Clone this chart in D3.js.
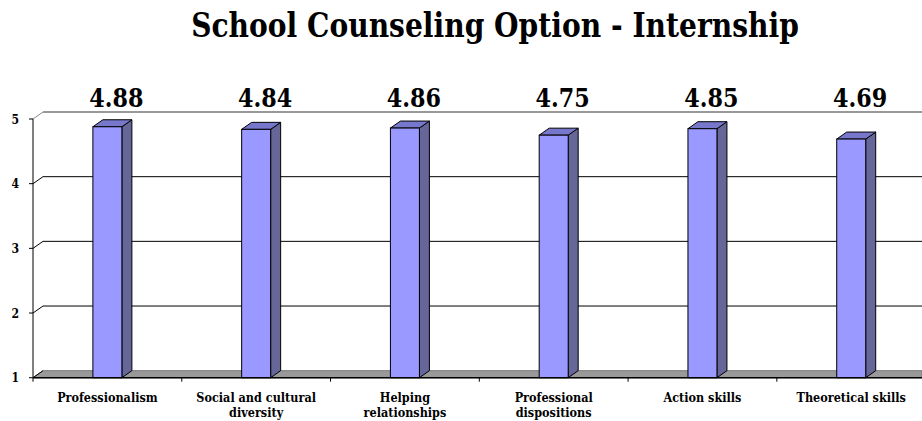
<!DOCTYPE html>
<html lang="en">
	<head>
		<meta charset="utf-8">
		<title>School Counseling Option - Internship</title>
		<script src="https://cdn.jsdelivr.net/npm/d3@7"></script>
		<style>
			body { margin: 0; background: #fff; overflow: hidden; }
		</style>
	</head>
	<body>
		<script>
			// chart data
			var categories = [["Professionalism"], ["Social and cultural", "diversity"], ["Helping", "relationships"],
				["Professional", "dispositions"], ["Action skills"], ["Theoretical skills"]];
			var values = [4.88, 4.84, 4.86, 4.75, 4.85, 4.69];
			var yTicks = [1, 2, 3, 4, 5];

			var w = 922, h = 421;
			var left = 33, right = 925.6;
			var dx = 10, dy = -7;   // depth of the 3d look
			var barW = 29;
			var font = "'DejaVu Serif', 'Liberation Serif', serif";
			var squeeze = 0.84;   // narrow the serif glyphs a bit, like Times

			var svg = d3.select("body").append("svg")
				.attr("width", w)
				.attr("height", h)
				.style("display", "block")
				.attr("font-family", font)
				.attr("font-weight", "bold");

			var x = d3.scaleBand()
				.domain(d3.range(values.length))
				.range([left, right]);

			var y = d3.scaleLinear()
				.domain([1, 5])
				.range([377.7, 119]);

			function at(px, py) {
				return "translate(" + px + "," + py + ") scale(" + squeeze + ",1)";
			}

			// title
			svg.append("text")
				.attr("transform", at(495, 37))
				.attr("text-anchor", "middle")
				.attr("font-size", "33.5px")
				.text("School Counseling Option - Internship");

			// floor
			svg.append("path")
				.attr("d", "M" + left + "," + y(1) + "L" + (left + dx) + "," + (y(1) + dy) +
					"L" + w + "," + (y(1) + dy) + "L" + w + "," + y(1) + "Z")
				.attr("fill", "#999999")
				.attr("stroke", "#777")
				.attr("stroke-width", 1);

			// back wall gridlines + side diagonals
			var grid = svg.append("g");
			yTicks.forEach(function(t) {
				if (t > 1) {
					grid.append("line")
						.attr("x1", left + dx).attr("x2", w)
						.attr("y1", y(t) + dy).attr("y2", y(t) + dy)
						.attr("stroke", t == 5 ? "#777" : "#000")
						.attr("stroke-width", t == 5 ? 1.5 : 1);
				}
				grid.append("line")
					.attr("x1", left).attr("x2", left + dx)
					.attr("y1", y(t)).attr("y2", y(t) + dy)
					.attr("stroke", t == 5 ? "#888" : "#000");
			});

			// y axis
			svg.append("line")
				.attr("x1", left).attr("x2", left)
				.attr("y1", y(5)).attr("y2", y(1))
				.attr("stroke", "#000");
			svg.selectAll(".ylab")
				.data(yTicks)
				.enter()
				.append("text")
				.attr("class", "ylab")
				.attr("transform", function(d) { return at(19, y(d) + 4.5); })
				.attr("text-anchor", "end")
				.attr("font-size", "13px")
				.text(function(d) { return d; });
			svg.selectAll(".ytick")
				.data(yTicks)
				.enter()
				.append("line")
				.attr("x1", left - 4).attr("x2", left)
				.attr("y1", function(d) { return y(d); })
				.attr("y2", function(d) { return y(d); })
				.attr("stroke", "#000");

			// bars
			var bars = svg.selectAll(".bar")
				.data(values)
				.enter()
				.append("g")
				.attr("class", "bar");

			function x0(i) { return x(i) + x.bandwidth() / 2 - barW / 2; }
			function x1(i) { return x(i) + x.bandwidth() / 2 + barW / 2; }

			bars.append("path")
				.attr("d", function(d, i) {
					return "M" + x1(i) + "," + y(d) + "L" + (x1(i) + dx) + "," + (y(d) + dy) +
						"L" + (x1(i) + dx) + "," + (y(1) + dy) + "L" + x1(i) + "," + y(1) + "Z";
				})
				.attr("fill", "#666699")
				.attr("stroke", "#000");

			bars.append("path")
				.attr("d", function(d, i) {
					return "M" + x0(i) + "," + y(d) + "L" + (x0(i) + dx) + "," + (y(d) + dy) +
						"L" + (x1(i) + dx) + "," + (y(d) + dy) + "L" + x1(i) + "," + y(d) + "Z";
				})
				.attr("fill", "#7777cc")
				.attr("stroke", "#000");

			bars.append("rect")
				.attr("x", function(d, i) { return x0(i); })
				.attr("y", function(d) { return y(d); })
				.attr("width", barW)
				.attr("height", function(d) { return y(1) - y(d); })
				.attr("fill", "#9999ff")
				.attr("stroke", "#000");

			// value labels
			svg.selectAll(".val")
				.data(values)
				.enter()
				.append("text")
				.attr("class", "val")
				.attr("transform", function(d, i) { return at(x(i) + x.bandwidth() / 2 + 9, 107); })
				.attr("text-anchor", "middle")
				.attr("font-size", "26.5px")
				.text(function(d) { return d.toFixed(2); });

			// x axis
			svg.append("line")
				.attr("x1", left).attr("x2", w)
				.attr("y1", y(1)).attr("y2", y(1))
				.attr("stroke", "#000")
				.attr("stroke-width", 1.5);
			svg.selectAll(".xtick")
				.data(d3.range(values.length + 1))
				.enter()
				.append("line")
				.attr("x1", function(i) { return left + i * x.step(); })
				.attr("x2", function(i) { return left + i * x.step(); })
				.attr("y1", y(1)).attr("y2", y(1) + 4)
				.attr("stroke", "#000");

			var cats = svg.selectAll(".cat")
				.data(categories)
				.enter()
				.append("text")
				.attr("class", "cat")
				.attr("transform", function(d, i) { return at(x(i) + x.bandwidth() / 2, 0); })
				.attr("text-anchor", "middle")
				.attr("font-size", "13.4px");
			cats.selectAll("tspan")
				.data(function(d) { return d; })
				.enter()
				.append("tspan")
				.attr("x", 0)
				.attr("y", function(d, j) { return 402 + j * 15.5; })
				.text(function(d) { return d; });
		</script>
	</body>
</html>
